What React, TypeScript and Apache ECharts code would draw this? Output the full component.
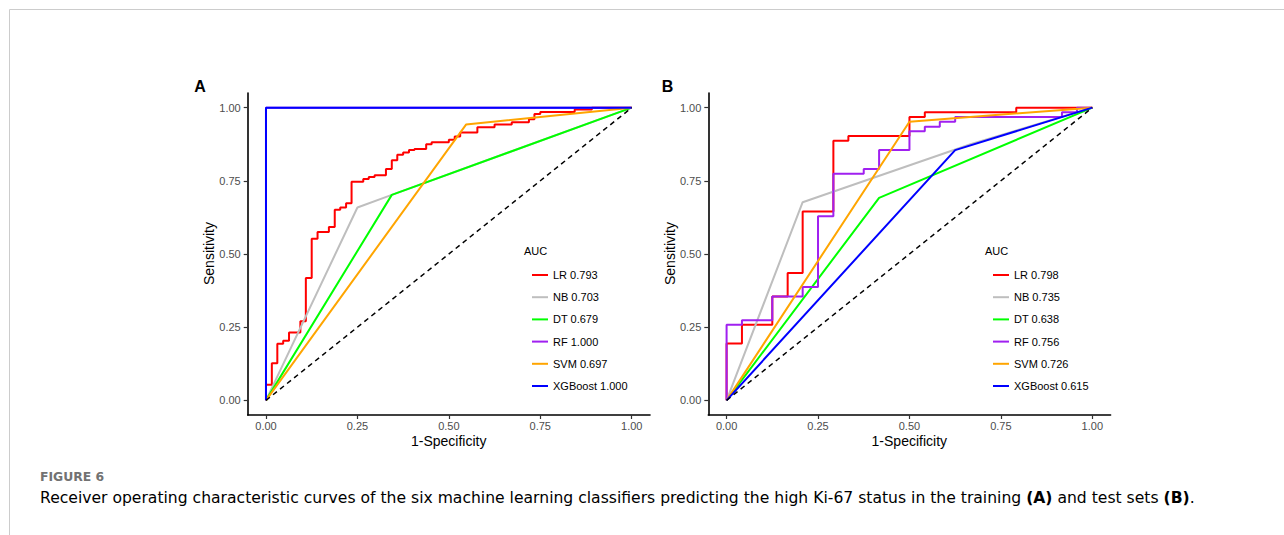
import React, { useEffect, useRef } from "react";
import * as echarts from "echarts";

const FONT = "'Liberation Sans', Arial, sans-serif";
const CAP_FONT = "'DejaVu Sans', 'Open Sans', sans-serif";

const tickValues = [0, 0.25, 0.5, 0.75, 1];
const modelNames = ["LR", "NB", "DT", "RF", "SVM", "XGBoost"];
const modelColors = ["#FF0000", "#BEBEBE", "#00FF00", "#A020F0", "#FFA500", "#0000FF"];
const aucTrain = ["0.793", "0.703", "0.679", "1.000", "0.697", "1.000"];
const aucTest = ["0.798", "0.735", "0.638", "0.756", "0.726", "0.615"];
const stepModels = ["LR", "RF"];

// Panel A (training set): false positive rate / true positive rate
const trainLR_fpr = [0, 0, 0.016, 0.031, 0.047, 0.063, 0.094, 0.109, 0.125, 0.141, 0.172, 0.188, 0.203, 0.219, 0.234, 0.266, 0.281, 0.297, 0.328, 0.344, 0.359, 0.375, 0.391, 0.406, 0.438, 0.453, 0.5, 0.516, 0.531, 0.578, 0.625, 0.672, 0.719, 0.734, 0.75, 0.844, 0.891, 1];
const trainLR_tpr = [0, 0.053, 0.127, 0.193, 0.204, 0.232, 0.27, 0.418, 0.552, 0.575, 0.592, 0.651, 0.659, 0.673, 0.747, 0.756, 0.763, 0.769, 0.79, 0.82, 0.839, 0.847, 0.855, 0.859, 0.875, 0.882, 0.89, 0.901, 0.915, 0.933, 0.942, 0.95, 0.96, 0.978, 0.985, 0.994, 1, 1];
const trainNB_fpr = [0, 0.25, 0.344, 1];
const trainNB_tpr = [0, 0.659, 0.702, 1];
const trainDT_fpr = [0, 0.344, 1];
const trainDT_tpr = [0, 0.702, 1];
const trainRF_fpr = [0, 0, 1];
const trainRF_tpr = [0, 1, 1];
const trainSVM_fpr = [0, 0.547, 1];
const trainSVM_tpr = [0, 0.942, 1];
const trainXGB_fpr = [0, 0, 1];
const trainXGB_tpr = [0, 1, 1];

// Panel B (test set)
const testLR_fpr = [0, 0, 0.042, 0.125, 0.167, 0.208, 0.292, 0.333, 0.5, 0.542, 0.792, 1];
const testLR_tpr = [0, 0.194, 0.258, 0.355, 0.435, 0.645, 0.887, 0.903, 0.968, 0.984, 1, 1];
const testNB_fpr = [0, 0.208, 0.667, 1];
const testNB_tpr = [0, 0.677, 0.875, 1];
const testDT_fpr = [0, 0.417, 1];
const testDT_tpr = [0, 0.692, 1];
const testRF_fpr = [0, 0, 0.042, 0.125, 0.208, 0.25, 0.292, 0.375, 0.417, 0.5, 0.542, 0.583, 0.625, 0.917, 0.958, 1];
const testRF_tpr = [0, 0.258, 0.274, 0.355, 0.387, 0.629, 0.774, 0.79, 0.855, 0.919, 0.935, 0.952, 0.968, 0.984, 1, 1];
const testSVM_fpr = [0, 0.5, 1];
const testSVM_tpr = [0, 0.952, 1];
const testXGB_fpr = [0, 0.625, 1];
const testXGB_tpr = [0, 0.855, 1];

const chanceLine = [0, 1];

const trainCurves = [
  [trainLR_fpr, trainLR_tpr],
  [trainNB_fpr, trainNB_tpr],
  [trainDT_fpr, trainDT_tpr],
  [trainRF_fpr, trainRF_tpr],
  [trainSVM_fpr, trainSVM_tpr],
  [trainXGB_fpr, trainXGB_tpr],
];
const testCurves = [
  [testLR_fpr, testLR_tpr],
  [testNB_fpr, testNB_tpr],
  [testDT_fpr, testDT_tpr],
  [testRF_fpr, testRF_tpr],
  [testSVM_fpr, testSVM_tpr],
  [testXGB_fpr, testXGB_tpr],
];

const zip = (a: number[], b: number[]) => a.map((v, i) => [v, b[i]]);

function makeAxis(gridIndex: number, isX: boolean) {
  return {
    type: "value",
    gridIndex,
    min: -0.05,
    max: 1.05,
    axisLine: { show: true, onZero: false, lineStyle: { color: "#000", width: 1.6 } },
    axisTick: {
      show: true,
      customValues: tickValues,
      length: 4,
      lineStyle: { color: "#333", width: 1.2 },
    },
    axisLabel: {
      customValues: tickValues,
      formatter: (v: number) => v.toFixed(2),
      fontSize: 11,
      fontFamily: FONT,
      color: "#4d4d4d",
      margin: isX ? 5 : 7,
    },
    splitLine: { show: false },
  };
}

export default function App() {
  const ref = useRef<HTMLDivElement>(null);
  useEffect(() => {
    if (!ref.current) return;
    const chart = echarts.init(ref.current, undefined, { renderer: "svg" });

    const series: any[] = [];
    const panels = [
      { curves: trainCurves, aucs: aucTrain },
      { curves: testCurves, aucs: aucTest },
    ];
    panels.forEach((p, gi) => {
      p.curves.forEach((c, i) => {
        series.push({
          type: "line",
          name: `${modelNames[i]} ${p.aucs[i]}`,
          xAxisIndex: gi,
          yAxisIndex: gi,
          data: zip(c[0], c[1]),
          step: stepModels.includes(modelNames[i]) ? "end" : false,
          showSymbol: false,
          symbol: "none",
          itemStyle: { color: modelColors[i] },
          lineStyle: { color: modelColors[i], width: 2 },
          silent: true,
        });
      });
      series.push({
        type: "line",
        name: "chance" + gi,
        xAxisIndex: gi,
        yAxisIndex: gi,
        data: zip(chanceLine, chanceLine),
        showSymbol: false,
        symbol: "none",
        lineStyle: { color: "#000", width: 1.5, type: [5, 4] },
        silent: true,
      });
    });

    const legendBase = {
      orient: "vertical",
      top: 263,
      itemWidth: 16,
      itemHeight: 2,
      icon: "rect",
      itemGap: 8.2,
      selectedMode: false,
      textStyle: { fontSize: 11, fontFamily: FONT, color: "#000", lineHeight: 14 },
    };

    const gridLefts = [247.7, 708.3];
    const graphic: any[] = [
      { type: "line", shape: { x1: 9.5, y1: 9.5, x2: 1284, y2: 9.5 }, style: { stroke: "#cccccc", lineWidth: 1 } },
      { type: "line", shape: { x1: 9.5, y1: 9.5, x2: 9.5, y2: 535 }, style: { stroke: "#cccccc", lineWidth: 1 } },
      { type: "text", x: 200, y: 86, style: { text: "A", font: `bold 16px ${FONT}`, fill: "#000", align: "center", verticalAlign: "middle" } },
      { type: "text", x: 667.5, y: 86, style: { text: "B", font: `bold 16px ${FONT}`, fill: "#000", align: "center", verticalAlign: "middle" } },
      { type: "text", x: 524, y: 251, style: { text: "AUC", font: `11px ${FONT}`, fill: "#000", align: "left", verticalAlign: "middle" } },
      { type: "text", x: 985, y: 251, style: { text: "AUC", font: `11px ${FONT}`, fill: "#000", align: "left", verticalAlign: "middle" } },
      {
        type: "text",
        x: 40,
        y: 476,
        style: { text: "FIGURE 6", font: `bold 12.4px ${CAP_FONT}`, fill: "#727272", align: "left", verticalAlign: "middle" },
      },
      {
        type: "text",
        x: 40,
        y: 498,
        style: {
          text:
            "{n|Receiver operating characteristic curves of the six machine learning classifiers predicting the high Ki-67 status in the training }{b|(A)}{n| and test sets }{b|(B)}{n|.}",
          align: "left",
          verticalAlign: "middle",
          rich: {
            n: { fontSize: 15.6, fontFamily: CAP_FONT, color: "#808080" },
            b: { fontSize: 15.6, fontFamily: CAP_FONT, color: "#606060", fontWeight: "bold" },
          },
        },
      },
    ];
    gridLefts.forEach((gl) => {
      const cx = gl + 201;
      graphic.push({
        type: "text",
        x: cx,
        y: 441,
        style: { text: "1-Specificity", font: `14px ${FONT}`, fill: "#000", align: "center", verticalAlign: "middle" },
      });
      graphic.push({
        type: "text",
        x: gl - 38.5,
        y: 253.5,
        rotation: Math.PI / 2,
        style: { text: "Sensitivity", font: `14px ${FONT}`, fill: "#000", align: "center", verticalAlign: "middle" },
      });
    });

    chart.setOption({
      animation: false,
      backgroundColor: "#fff",
      grid: [
        { left: gridLefts[0], top: 93, width: 402.3, height: 322 },
        { left: gridLefts[1], top: 93, width: 402.3, height: 322 },
      ],
      xAxis: [makeAxis(0, true), makeAxis(1, true)],
      yAxis: [makeAxis(0, false), makeAxis(1, false)],
      legend: [
        { ...legendBase, left: 527, data: modelNames.map((m, i) => `${m} ${aucTrain[i]}`) },
        { ...legendBase, left: 988, data: modelNames.map((m, i) => `${m} ${aucTest[i]}`) },
      ],
      series,
      graphic,
    });
    return () => chart.dispose();
  }, []);
  return (
    <div
      ref={ref}
      style={{ position: "absolute", left: 0, top: 0, width: 1284, height: 535 }}
    />
  );
}
